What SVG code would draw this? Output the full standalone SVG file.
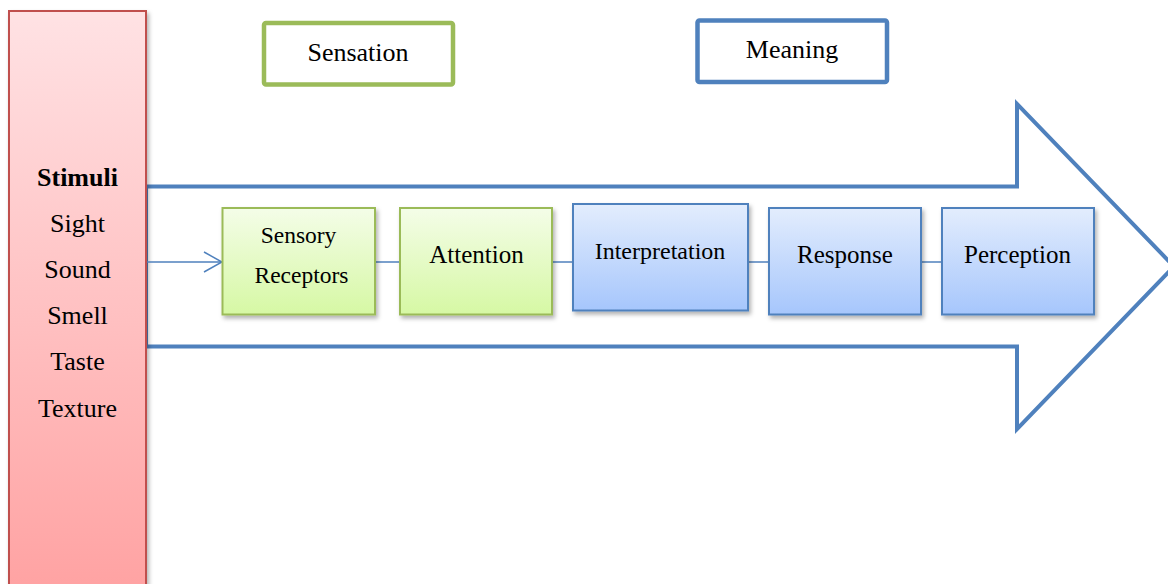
<svg xmlns="http://www.w3.org/2000/svg" width="1168" height="584" viewBox="0 0 1168 584">
  <style>
    .lbl { font-family: "Liberation Serif", "Times New Roman", serif; fill: #000; text-anchor: middle; }
    .green { fill: url(#gGreen); stroke: #9bbb59; stroke-width: 2; }
    .blue { fill: url(#gBlue); stroke: #4f81bd; stroke-width: 2; }
    .link { stroke: #4f81bd; stroke-width: 1.5; fill: none; }
  </style>
  <defs>
    <linearGradient id="gRed" x1="0" y1="0" x2="0" y2="1">
      <stop offset="0" stop-color="#ffe2e4"/>
      <stop offset="1" stop-color="#ffa0a0"/>
    </linearGradient>
    <linearGradient id="gGreen" x1="0" y1="0" x2="0" y2="1">
      <stop offset="0" stop-color="#f4fde8"/>
      <stop offset="1" stop-color="#d6f8a4"/>
    </linearGradient>
    <linearGradient id="gBlue" x1="0" y1="0" x2="0" y2="1">
      <stop offset="0" stop-color="#e3edfd"/>
      <stop offset="1" stop-color="#a6c6fc"/>
    </linearGradient>
    <filter id="shadow" x="-10%" y="-10%" width="130%" height="130%">
      <feDropShadow dx="2" dy="3" stdDeviation="2" flood-color="#000" flood-opacity="0.3"/>
    </filter>
    <marker id="openArrow" markerWidth="20" markerHeight="22" refX="19" refY="11" orient="auto" markerUnits="userSpaceOnUse">
      <path d="M1,1 L19,11 L1,21" fill="none" stroke="#4f81bd" stroke-width="1.5"/>
    </marker>
  </defs>

  <!-- big block arrow -->
  <g id="flow-arrow">
    <polygon points="146,186.5 1017,186.5 1017,104 1174,266.5 1017,429 1017,346.5 146,346.5" fill="#fff" stroke="#4f81bd" stroke-width="4" stroke-linejoin="miter"/>
  </g>

  <!-- stimuli column -->
  <g id="stimuli">
    <rect x="9" y="11" width="137" height="600" fill="url(#gRed)" stroke="#c0504d" stroke-width="2" filter="url(#shadow)"/>
    <text class="lbl" x="77.5" y="186" font-size="26" font-weight="bold">Stimuli</text>
    <text class="lbl" x="77.5" y="232" font-size="26">Sight</text>
    <text class="lbl" x="77.5" y="278" font-size="26">Sound</text>
    <text class="lbl" x="77.5" y="324" font-size="26">Smell</text>
    <text class="lbl" x="77.5" y="370" font-size="26">Taste</text>
    <text class="lbl" x="77.5" y="417" font-size="26">Texture</text>
  </g>

  <!-- connectors -->
  <g id="connectors">
    <line class="link" x1="147" y1="262" x2="222" y2="262" marker-end="url(#openArrow)"/>
    <line class="link" x1="375" y1="262" x2="400" y2="262"/>
    <line class="link" x1="552" y1="262" x2="573" y2="262"/>
    <line class="link" x1="748" y1="262" x2="769" y2="262"/>
    <line class="link" x1="921" y1="262" x2="942" y2="262"/>
  </g>

  <!-- process steps -->
  <g id="sensory-receptors">
    <rect class="green" x="222.5" y="208" width="152.5" height="106.5" filter="url(#shadow)"/>
    <text class="lbl" x="298.5" y="243" font-size="23.5">Sensory</text>
    <text class="lbl" x="301.5" y="283" font-size="23.5">Receptors</text>
  </g>
  <g id="attention">
    <rect class="green" x="400" y="208" width="152" height="106.5" filter="url(#shadow)"/>
    <text class="lbl" x="476.5" y="263" font-size="25">Attention</text>
  </g>
  <g id="interpretation">
    <rect class="blue" x="573" y="204" width="175" height="106.5" filter="url(#shadow)"/>
    <text class="lbl" x="660" y="259" font-size="24">Interpretation</text>
  </g>
  <g id="response">
    <rect class="blue" x="769" y="208" width="152" height="106.5" filter="url(#shadow)"/>
    <text class="lbl" x="845" y="263" font-size="25">Response</text>
  </g>
  <g id="perception">
    <rect class="blue" x="942" y="208" width="152" height="106.5" filter="url(#shadow)"/>
    <text class="lbl" x="1017.5" y="263" font-size="25">Perception</text>
  </g>

  <!-- category labels -->
  <g id="sensation">
    <rect x="264" y="23" width="189" height="61.5" rx="2" fill="#fff" stroke="#9bbb59" stroke-width="4.5"/>
    <text class="lbl" x="358" y="60.5" font-size="26">Sensation</text>
  </g>
  <g id="meaning">
    <rect x="697.5" y="20.5" width="189.5" height="61.5" rx="2" fill="#fff" stroke="#4f81bd" stroke-width="4.5"/>
    <text class="lbl" x="792" y="57.5" font-size="26">Meaning</text>
  </g>
</svg>
